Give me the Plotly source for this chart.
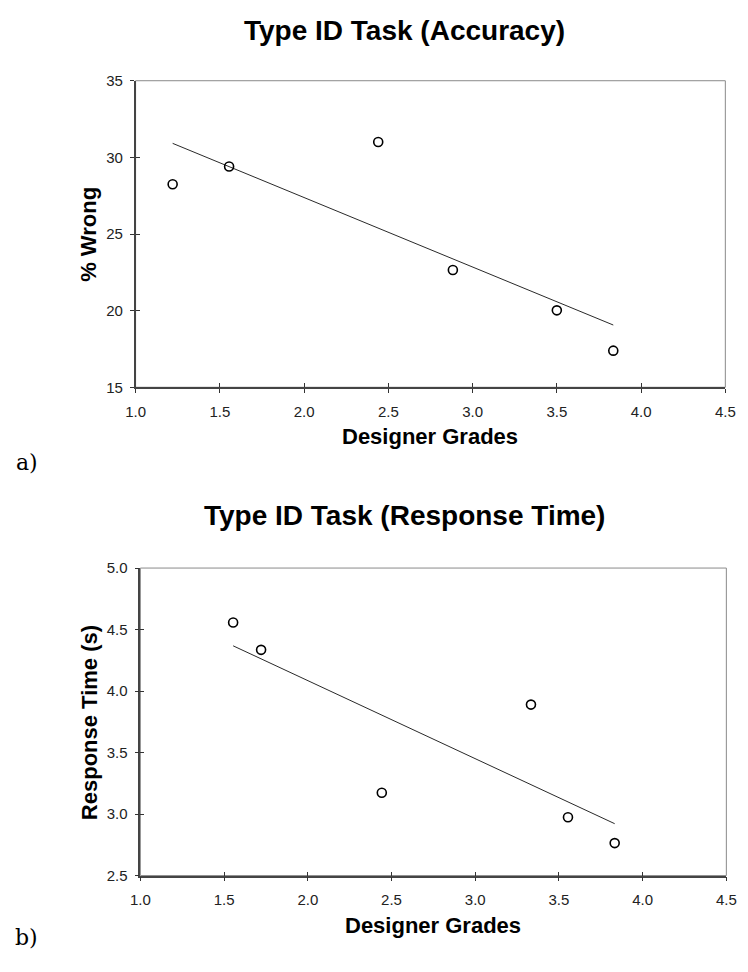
import numpy as np
import plotly.graph_objects as go

# ---- data ----
acc_grades = [1.22, 1.555, 2.44, 2.883, 3.50, 3.835]
acc_wrong = [28.25, 29.4, 31.0, 22.65, 20.02, 17.39]

rt_grades = [1.554, 1.721, 2.442, 3.333, 3.554, 3.833]
rt_time = [4.558, 4.335, 3.173, 3.89, 2.974, 2.764]

x_ticks = [1.0, 1.5, 2.0, 2.5, 3.0, 3.5, 4.0, 4.5]
acc_ticks = [15, 20, 25, 30, 35]
rt_ticks = [2.5, 3.0, 3.5, 4.0, 4.5, 5.0]

title_a = "Type ID Task (Accuracy)"
title_b = "Type ID Task (Response Time)"
xlab = "Designer Grades"
ylab_a = "% Wrong"
ylab_b = "Response Time (s)"

W, H = 748, 972
SANS = "Liberation Sans, Arial, sans-serif"
SERIF = "DejaVu Serif, serif"


def fit(x, y):
    x = np.asarray(x, float)
    y = np.asarray(y, float)
    m, b = np.polyfit(x, y, 1)
    xs = np.array([x.min(), x.max()])
    return xs, m * xs + b


fig = go.Figure()

panels = [
    dict(x=acc_grades, y=acc_wrong, yt=acc_ticks, yfmt="d",
         xd=[0.1725, 0.9826], yd=[0.6039, 0.9249], xa="x", ya="y", xo="x3", yo="y3"),
    dict(x=rt_grades, y=rt_time, yt=rt_ticks, yfmt=".1f",
         xd=[0.1791, 0.9840], yd=[0.0926, 0.4146], xa="x2", ya="y2", xo="x4", yo="y4"),
]

tickfont = dict(family=SANS, size=15, color="#222")

for p in panels:
    xs, ys = fit(p["x"], p["y"])
    fig.add_trace(go.Scatter(x=xs, y=ys, mode="lines",
                             line=dict(color="#111", width=0.9),
                             xaxis=p["xa"], yaxis=p["ya"], showlegend=False, hoverinfo="skip"))
    fig.add_trace(go.Scatter(x=p["x"], y=p["y"], mode="markers",
                             marker=dict(symbol="circle-open", size=9, color="black",
                                         line=dict(width=1.6, color="black")),
                             xaxis=p["xa"], yaxis=p["ya"], showlegend=False))
    # invisible trace on overlay axes that provide the inner half of the crossing ticks
    fig.add_trace(go.Scatter(x=p["x"], y=p["y"], mode="markers",
                             marker=dict(opacity=0), xaxis=p["xo"], yaxis=p["yo"],
                             showlegend=False, hoverinfo="skip"))

    xr = [x_ticks[0], x_ticks[-1]]
    yr = [p["yt"][0], p["yt"][-1]]
    xkey = "xaxis" if p["xa"] == "x" else "xaxis" + p["xa"][1:]
    ykey = "yaxis" if p["ya"] == "y" else "yaxis" + p["ya"][1:]
    xokey = "xaxis" + p["xo"][1:]
    yokey = "yaxis" + p["yo"][1:]
    fig.update_layout(**{
        xkey: dict(domain=p["xd"], anchor=p["ya"], range=xr, tickvals=x_ticks,
                   tickformat=".1f", ticks="outside", ticklen=4, tickwidth=1, tickcolor="#333",
                   showline=True, linecolor="#444", linewidth=1.5, showgrid=False,
                   zeroline=False, tickfont=tickfont, ticklabelstandoff=6),
        ykey: dict(domain=p["yd"], anchor=p["xa"], range=yr, tickvals=p["yt"],
                   tickformat=p["yfmt"], ticks="outside", ticklen=4, tickwidth=1, tickcolor="#333",
                   showline=True, linecolor="#444", linewidth=1.5, showgrid=False,
                   zeroline=False, tickfont=tickfont, ticklabelstandoff=4),
        xokey: dict(overlaying=p["xa"], anchor=p["yo"], range=xr, tickvals=x_ticks,
                    ticks="inside", ticklen=4, tickwidth=1, tickcolor="#333",
                    showticklabels=False, showline=False, showgrid=False, zeroline=False),
        yokey: dict(overlaying=p["ya"], anchor=p["xo"], range=yr, tickvals=p["yt"],
                    ticks="inside", ticklen=4, tickwidth=1, tickcolor="#333",
                    showticklabels=False, showline=False, showgrid=False, zeroline=False),
    })
    # light frame (top/right edges are a lighter gray in the reference)
    fig.add_shape(type="rect", xref=p["xa"] + " domain", yref=p["ya"] + " domain",
                  x0=0, x1=1, y0=0, y1=1, line=dict(color="#8a8a8a", width=1),
                  layer="below")

ann = []
def A(text, x, y, size, family=SANS, bold=True, angle=0, color="black"):
    ann.append(dict(text=text, x=x, y=y, xref="paper", yref="paper",
                    xanchor="center", yanchor="middle", showarrow=False, textangle=angle,
                    font=dict(family=family, size=size, color=color,
                              weight="bold" if bold else "normal")))

A(title_a, 405 / W, 1 - 22 / H, 28)
A(title_b, 405 / W, 1 - 516 / H, 28)
A(xlab, 432 / W, 1 - 435 / H, 22)
A(xlab, 435 / W, 1 - 933 / H, 22)
A(ylab_a, 81 / W, 1 - 229 / H, 22, angle=-90)
A(ylab_b, 81 / W, 1 - 726 / H, 22, angle=-90)
A("a)", 17 / W, 1 - 462 / H, 22, family=SERIF, bold=False)
A("b)", 17 / W, 1 - 945 / H, 22, family=SERIF, bold=False)

fig.update_layout(width=W, height=H, margin=dict(l=0, r=0, t=0, b=0),
                  paper_bgcolor="white", plot_bgcolor="white",
                  showlegend=False, annotations=ann)

fig.write_html("out.html")
